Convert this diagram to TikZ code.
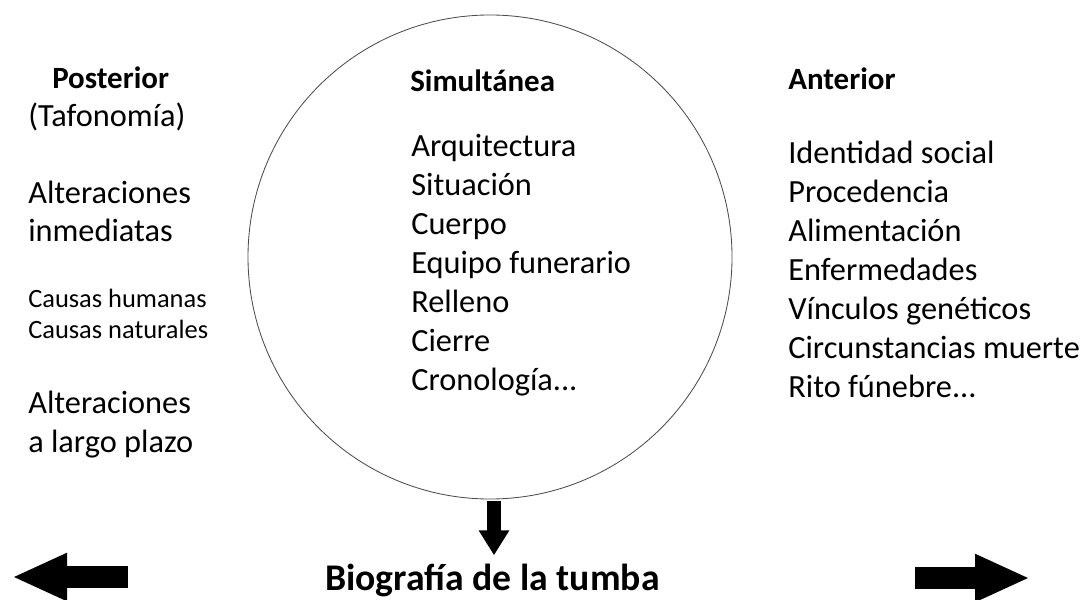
\documentclass[tikz,border=0pt]{standalone}
\usepackage{fontspec}
\setmainfont{Carlito}
\usepackage{tikz}
\usetikzlibrary{arrows.meta}

\begin{document}
\begin{tikzpicture}[list/.style={anchor=base west,align=left,inner sep=0pt,font=\fontsize{23}{27.7}\selectfont},
    head/.style={anchor=base west,inner sep=0pt,font=\fontsize{22}{26}\selectfont\bfseries},
    small/.style={anchor=base west,align=left,inner sep=0pt,font=\fontsize{18.8}{22}\selectfont},
    fat/.style={line width=0.55cm,-{Triangle[length=1.375cm,width=1.1cm]}}]

    \useasboundingbox (0,0) rectangle (27,14.975);

    \node[circle,draw=black!70,line width=0.6pt,minimum size=12.1cm] (circ) at (12.25, 8.55) {};

    \node[head]  (post) at (1.3, 12.75)    {Posterior};
    \node[list]  (tafo) at (0.7, 11.8)     {(Tafonomía)};
    \node[list]  (inme) at (0.7, 8.925)    {Alteraciones\\inmediatas};
    \node[small] (caus) at (0.7, 6.525)    {Causas humanas\\Causas naturales};
    \node[list]  (larg) at (0.7, 3.675)    {Alteraciones\\a largo plazo};

    \node[head]  (simu) at (10.25, 12.675) {Simultánea};
    \node[list]  (slis) at (10.275, 5.225) {Arquitectura\\Situación\\Cuerpo\\Equipo funerario\\Relleno\\Cierre\\Cronología...};

    \node[head]  (ante) at (19.7, 12.725)  {Anterior};
    \node[list]  (alis) at (19.7, 5.05)    {Identidad social\\Procedencia\\Alimentación\\Enfermedades\\Vínculos genéticos\\Circunstancias muerte\\Rito fúnebre...};

    \node[anchor=base west,inner sep=0pt,font=\fontsize{26.8}{32}\selectfont\bfseries] (bio) at (8.125, 0.225) {Biografía de la tumba};

    \coordinate (ltail) at (3.2, 0.55);
    \coordinate (ltip)  at (0.3, 0.55);
    \coordinate (rtail) at (22.875, 0.525);
    \coordinate (rtip)  at (25.75, 0.525);

    \draw[line width=0.35cm,-{Triangle[length=0.625cm,width=0.725cm]}] ([xshift=0.1cm,yshift=-0.05cm]circ.south) -- ([xshift=0.1cm,yshift=0.2cm]circ.south |- bio.north);
    \draw[fat] (ltail) -- (ltip);
    \draw[fat] (rtail) -- (rtip);
  \end{tikzpicture}
\end{document}
